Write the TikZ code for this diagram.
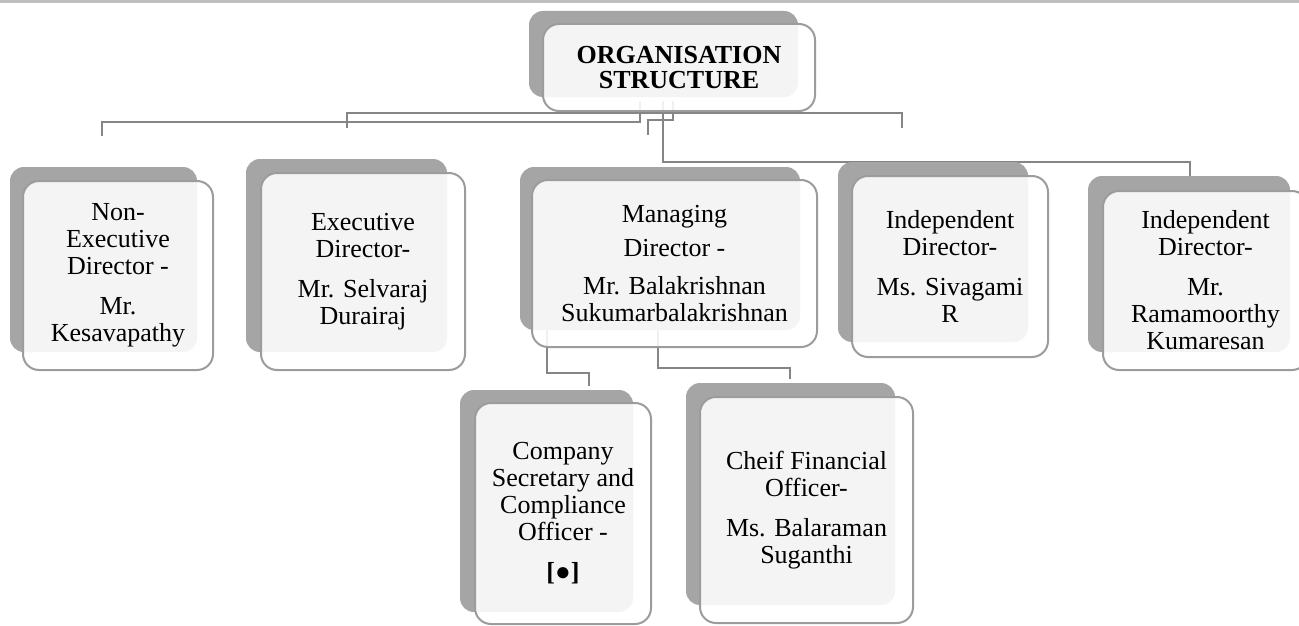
\documentclass[tikz,border=0pt]{standalone}
\usepackage{fontspec}
\setmainfont{Liberation Serif}
\definecolor{shad}{HTML}{A5A5A5}
\definecolor{edgec}{HTML}{9C9C9C}
\definecolor{connc}{HTML}{858585}
\definecolor{rulec}{HTML}{BFBFBF}
\pgfdeclarelayer{bglayer}
\pgfdeclarelayer{connlayer}
\pgfsetlayers{bglayer,connlayer,main}
\begin{document}
\begin{tikzpicture}[x=1pt,y=-1pt,
  shadowbox/.style={fill=shad, rounded corners=14pt, inner sep=0pt, draw=none},
  frontbox/.style={draw=edgec, line width=2pt, fill=white, fill opacity=0.88, text opacity=1,
    rounded corners=16pt, inner sep=0pt, align=center, font=\fontsize{26}{27}\selectfont},
  link/.style={draw=connc, line width=2.2pt}]
\useasboundingbox (0,0) rectangle (1299,626);
\begin{pgfonlayer}{bglayer}
  \fill[white] (0,0) rectangle (1299,626);
  \fill[rulec] (0,0) rectangle (1299,3.5);
\end{pgfonlayer}

% top box
\node[shadowbox, minimum width=269pt, minimum height=86pt] (top-s) at (663.5,54) {};
\node[frontbox, minimum width=272pt, minimum height=87pt, font=\fontsize{26}{25}\selectfont\bfseries] (top) at (679,67.5) {ORGANISATION\\STRUCTURE};

% directors
\node[shadowbox, minimum width=187pt, minimum height=185pt] (ne-s) at (103.5,259.5) {};
\node[frontbox, minimum width=190pt, minimum height=189pt] (ne) at (118,275.5)
  {Non-\\Executive\\Director -\\[13pt]Mr.\\Kesavapathy};

\node[shadowbox, minimum width=201pt, minimum height=193pt] (ex-s) at (346.5,255.5) {};
\node[frontbox, minimum width=204pt, minimum height=197pt] (ex) at (363,271.5)
  {Executive\\Director-\\[13pt]Mr. Selvaraj\\Durairaj};

\node[shadowbox, minimum width=280pt, minimum height=163pt] (md-s) at (660,248.5) {};
\node[frontbox, minimum width=285pt, minimum height=167pt] (md) at (674.5,263.5)
  {Managing\\[7pt]Director -\\[11pt]Mr. Balakrishnan\\Sukumarbalakrishnan};

\node[shadowbox, minimum width=190pt, minimum height=180pt] (is-s) at (933,252) {};
\node[frontbox, minimum width=196pt, minimum height=181pt] (is) at (950,266.5)
  {Independent\\Director-\\[13pt]Ms. Sivagami\\R};

\node[shadowbox, minimum width=202pt, minimum height=176pt] (ir-s) at (1189,264) {};
\node[frontbox, minimum width=205pt, minimum height=179pt] (ir) at (1205.5,280.5)
  {Independent\\Director-\\[13pt]Mr.\\Ramamoorthy\\Kumaresan};

% officers
\node[shadowbox, minimum width=173pt, minimum height=222pt] (cs-s) at (546.5,501) {};
\node[frontbox, minimum width=176pt, minimum height=221pt] (cs) at (563,513.5)
  {Company\\Secretary and\\Compliance\\Officer -\\[13pt]\textbf{[}●\textbf{]}};

\node[shadowbox, minimum width=209pt, minimum height=222pt] (cf-s) at (790.5,494) {};
\node[frontbox, minimum width=213pt, minimum height=226pt] (cf) at (806.5,510)
  {Cheif Financial\\Officer-\\[13pt]Ms. Balaraman\\Suganthi};

% connector points
\coordinate (a0) at ([shift={(-39pt,11pt)}]top.south);
\coordinate (a1) at (102,136);
\coordinate (b1) at (347,128);
\coordinate (b2) at (902,128);
\coordinate (c0) at ([shift={(-6pt,11pt)}]top.south);
\coordinate (c1) at (648,135);
\coordinate (d0) at ([shift={(-16pt,11pt)}]top.south);
\coordinate (d1) at (ir-s.north -| 1190,0);
\coordinate (e0) at (md-s.south -| 547,0);
\coordinate (e1) at ([yshift=4pt]cs-s.north -| 589,0);
\coordinate (f0) at (md-s.south -| 658,0);
\coordinate (f1) at ([yshift=4pt]cf-s.north -| 790,0);

\begin{pgfonlayer}{connlayer}
  \draw[link] (a0) -- ++(0,21) -| (a1);
  \draw[link] (b1) -- ++(0,-15) -| (b2);
  \draw[link] (c0) -- ++(0,19) -| (c1);
  \draw[link] (d0) -- ++(0,61) -| (d1);
  \draw[link] (e0) -- ++(0,43) -| (e1);
  \draw[link] (f0) -- ++(0,38) -| (f1);
\end{pgfonlayer}
\end{tikzpicture}
\end{document}
